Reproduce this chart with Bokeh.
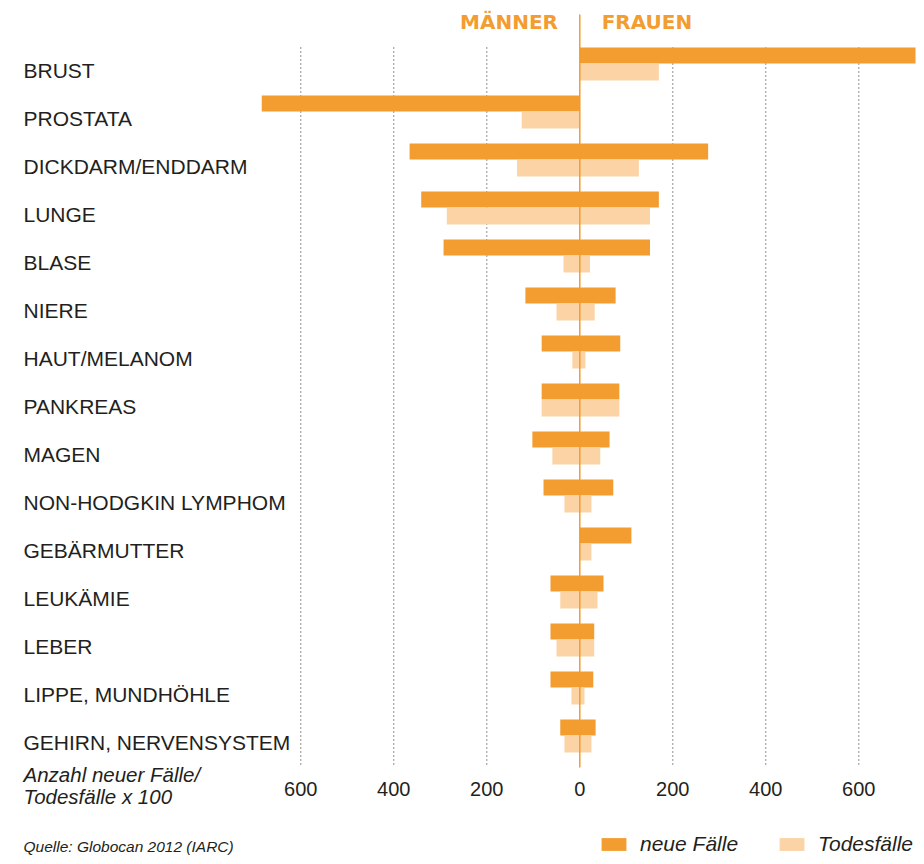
from bokeh.plotting import figure
from bokeh.models import Range1d, Label, Legend, LegendItem, ColumnDataSource
from bokeh.transform import dodge
from bokeh.core.properties import value
from bokeh.embed import file_html
from bokeh.resources import INLINE

# ---------------- data (x 100 cases) ----------------
categories = ["BRUST", "PROSTATA", "DICKDARM/ENDDARM", "LUNGE", "BLASE", "NIERE",
              "HAUT/MELANOM", "PANKREAS", "MAGEN", "NON-HODGKIN LYMPHOM",
              "GEBÄRMUTTER", "LEUKÄMIE", "LEBER", "LIPPE, MUNDHÖHLE",
              "GEHIRN, NERVENSYSTEM"]
men_new = [0, 684, 366, 341, 293, 117, 82, 82, 102, 78, 0, 63, 63, 63, 42]
women_new = [722, 0, 276, 170, 151, 77, 87, 85, 64, 72, 111, 51, 31, 29, 34]
men_deaths = [0, 125, 135, 286, 35, 50, 16, 82, 59, 33, 0, 42, 50, 18, 33]
women_deaths = [170, 0, 127, 151, 22, 32, 12, 85, 44, 25, 25, 38, 31, 10, 25]
tick_values = [-600, -400, -200, 0, 200, 400, 600]
tick_labels = ["600", "400", "200", "0", "200", "400", "600"]

# ---------------- style / layout ----------------
ORANGE = "#F39C2F"
LIGHT = "#FBD3A5"
TEXT = "#231F20"
FONT = "Liberation Sans"

W, H = 916, 856
PX_PER_UNIT = 0.465
ZERO_PX = 579.3
ROW_PX = 48
ROW0_PX = 71
TXT = 7  # svg text renders a little low; compensate


def x_at(px):
    return (px - ZERO_PX) / PX_PER_UNIT


def y_at(px):
    return (px - ROW0_PX) / ROW_PX


n = len(categories)
src = ColumnDataSource(dict(
    cat=categories,
    row=list(range(n)),
    new_left=[-v for v in men_new],
    new_right=women_new,
    dead_left=[-v for v in men_deaths],
    dead_right=women_deaths,
))

p = figure(width=W, height=H,
           x_range=Range1d(x_at(0), x_at(W)),
           y_range=Range1d(y_at(H), y_at(0)),
           output_backend="svg", toolbar_location=None, min_border=0,
           x_axis_type=None, y_axis_type=None, outline_line_color=None,
           background_fill_color="white", border_fill_color="white")

# dotted grid lines
grid_x = [t for t in tick_values if t != 0]
p.segment(x0=grid_x, x1=grid_x, y0=-0.5, y1=n - 0.5,
          line_color="#222222", line_dash="1 3", line_width=1)

# bars
r_new = p.hbar(y=dodge("row", -1 / 3), left="new_left", right="new_right",
               height=16 / 48, fill_color=ORANGE, line_color=None, source=src)
r_dead = p.hbar(y=dodge("row", 0.01), left="dead_left", right="dead_right",
                height=17 / 48, fill_color=LIGHT, line_color=None, source=src)

# zero line (also the divider between MÄNNER and FRAUEN)
p.segment(x0=0, x1=0, y0=y_at(14), y1=n - 0.5, line_color=ORANGE, line_width=1.5)

# category labels
p.text(x=x_at(23), y=dodge("row", (5.5 - TXT) / ROW_PX), text="cat", source=src,
       text_font=value(FONT), text_font_size="21px", text_color=TEXT,
       text_align="left", text_baseline="alphabetic")

# tick labels
p.text(x=tick_values, y=y_at(795 - TXT), text=tick_labels,
       text_font=value(FONT), text_font_size="20px", text_color=TEXT,
       text_align="center", text_baseline="alphabetic")

# header
p.add_layout(Label(x=-47, y=y_at(28 - TXT), text="MÄNNER", text_align="right",
                   text_baseline="alphabetic", text_font="DejaVu Sans",
                   text_font_style="bold", text_font_size="20px", text_color=ORANGE))
p.add_layout(Label(x=47, y=y_at(28 - TXT), text="FRAUEN", text_align="left",
                   text_baseline="alphabetic", text_font="DejaVu Sans",
                   text_font_style="bold", text_font_size="20px", text_color=ORANGE))

# axis title
p.add_layout(Label(x=x_at(23), y=y_at(781 - TXT), text="Anzahl neuer Fälle/",
                   text_baseline="alphabetic", text_font=FONT, text_font_style="italic",
                   text_font_size="20.5px", text_color=TEXT))
p.add_layout(Label(x=x_at(23), y=y_at(803 - TXT), text="Todesfälle  x 100",
                   text_baseline="alphabetic", text_font=FONT, text_font_style="italic",
                   text_font_size="20.5px", text_color=TEXT))

# source
p.add_layout(Label(x=x_at(23), y=y_at(853 - TXT), text="Quelle: Globocan 2012 (IARC)",
                   text_baseline="alphabetic", text_font=FONT, text_font_style="italic",
                   text_font_size="15.5px", text_color=TEXT))

# legend
legend = Legend(items=[LegendItem(label="neue Fälle", renderers=[r_new]),
                       LegendItem(label="Todesfälle", renderers=[r_dead])],
                location=(598, 0), orientation="horizontal",
                glyph_width=31, glyph_height=16, label_height=16,
                label_standoff=11, spacing=38, padding=0, margin=0,
                border_line_color=None, background_fill_alpha=0,
                label_text_font=FONT, label_text_font_style="italic",
                label_text_font_size="21px", label_text_color=TEXT)
p.add_layout(legend)

open("out.html", "w").write(file_html(p, INLINE))
